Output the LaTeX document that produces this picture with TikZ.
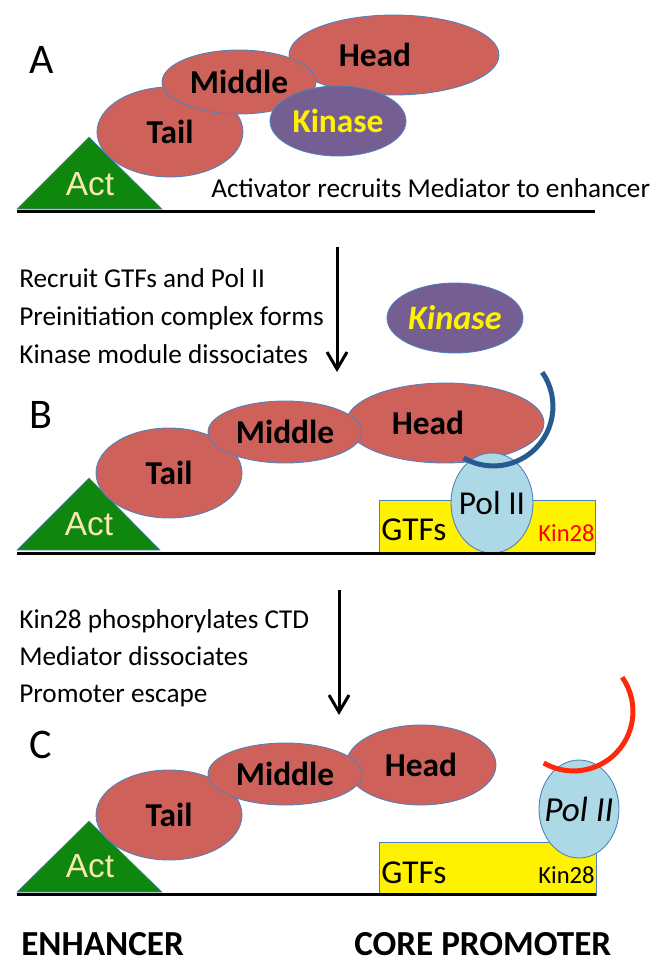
\documentclass[tikz,border=0pt]{standalone}
\usepackage{fontspec}
\setmainfont{Carlito}
\newfontfamily\arialfont{Liberation Sans}
\usetikzlibrary{shapes.geometric,arrows.meta}

\definecolor{medred}{RGB}{206,98,91}
\definecolor{rim}{RGB}{79,129,189}
\definecolor{kinpurple}{RGB}{117,94,145}
\definecolor{polblue}{RGB}{173,216,230}
\definecolor{actgreen}{RGB}{15,135,15}
\definecolor{acttext}{RGB}{248,232,176}
\definecolor{ctdblue}{RGB}{38,90,145}
\definecolor{ctdred}{RGB}{255,40,10}

\begin{document}
\begin{tikzpicture}[x=0.02cm,y=-0.02cm,
  sub/.style={ellipse, draw=rim, line width=0.5pt, fill=medred, inner sep=0pt,
    font=\fontsize{19}{22}\selectfont\bfseries},
  kin/.style={sub, fill=kinpurple, text=yellow, minimum width=2.72cm, minimum height=1.4cm},
  pol/.style={ellipse, draw=rim, line width=0.5pt, fill=polblue, inner sep=0pt,
    font=\fontsize{19}{22}\selectfont},
  gtf/.style={draw=rim, line width=0.5pt, fill=yellow},
  act/.style={fill=actgreen, draw=rim, line width=0.3pt},
  acttxt/.style={text=acttext, font=\arialfont\fontsize{19}{22}\selectfont, inner sep=0pt},
  dna/.style={line width=0.06cm},
  panel/.style={font=\fontsize{24}{28}\selectfont, anchor=base west, inner sep=0pt},
  steptxt/.style={font=\fontsize{15.5}{18}\selectfont, anchor=base west, inner sep=0pt},
  boxtxt/.style={font=\fontsize{19}{22}\selectfont, inner sep=0pt},
  kintxt/.style={font=\fontsize{14}{16}\selectfont, anchor=base east, inner sep=0pt},
  region/.style={font=\fontsize{20}{24}\selectfont\bfseries, anchor=base west, inner sep=0pt},
  move/.style={-{Straight Barb[length=0.34cm,width=0.4cm]}, line width=0.06cm},
  ctd/.style={line width=0.1cm}]

\useasboundingbox (0,0) rectangle (659,965);

% A
\node[panel] (lA) at (29,73) {A};
\draw[act] (17,209) -- (162,209) -- (89,137) -- cycle;
\node[acttxt] (aA) at (90,184) {Act};
\node[sub, minimum width=4.2cm, minimum height=1.6cm] (hA) at (394,55) {Head\rule{0.76cm}{0pt}};
\node[sub, minimum width=2.92cm, minimum height=1.8cm] (tA) at (170,132) {Tail};
\node[sub, minimum width=3.08cm, minimum height=1.28cm] (mA) at (239,82) {Middle};
\node[kin] (kA) at (338,121) {Kinase};
\draw[dna] (17,211) -- (595,211);
\node[steptxt] (sA) at (211,197) {Activator recruits Mediator to enhancer};

% A -> B
\coordinate (uA) at (337,247);
\coordinate (dA) at (337,372);
\draw[move] (uA) -- (dA);
\node[steptxt] (s1) at (19,287) {Recruit GTFs and Pol II};
\node[steptxt] (s2) at (19,325) {Preinitiation complex forms};
\node[steptxt] (s3) at (19,363) {Kinase module dissociates};
\node[kin, font=\fontsize{19.5}{22}\selectfont\bfseries\itshape] (kB) at (455,318) {Kinase};

% B
\node[panel] (lB) at (29,428) {B};
\draw[act] (17,550) -- (160,550) -- (89,478) -- cycle;
\node[acttxt] (aB) at (89,524) {Act};
\node[sub, minimum width=3.96cm, minimum height=1.6cm] (hB) at (445,423) {Head\rule{0.68cm}{0pt}};
\node[sub, minimum width=2.92cm, minimum height=1.8cm] (tB) at (169,473) {Tail};
\node[sub, minimum width=3.08cm, minimum height=1.24cm] (mB) at (285,432) {Middle};
\draw[gtf] (379,500) rectangle (595,553);
\node[pol, minimum width=1.64cm, minimum height=2.0cm] (pB) at (492,503) {\makebox[0.8cm]{Pol II}};
\draw[ctd, ctdblue] (542.2,372.3) arc[start angle=-35, end angle=120, radius=59.5];
\draw[dna] (17,553) -- (595,553);
\node[boxtxt, anchor=base west] (gB) at (381,540) {GTFs};
\node[kintxt, text=red] (nB) at (595,541) {Kin28};

% B -> C
\coordinate (uB) at (339,590);
\coordinate (dB) at (339,715);
\draw[move] (uB) -- (dB);
\node[steptxt] (s4) at (19,628) {Kin28 phosphorylates CTD};
\node[steptxt] (s5) at (19,665) {Mediator dissociates};
\node[steptxt] (s6) at (19,702) {Promoter escape};

% C
\node[panel] (lC) at (29,758) {C};
\draw[act] (17,892) -- (162,892) -- (89,821) -- cycle;
\node[acttxt] (aC) at (90,866) {Act};
\node[sub, minimum width=3.0cm, minimum height=1.6cm] (hC) at (421,765) {Head};
\node[sub, minimum width=2.92cm, minimum height=1.8cm] (tC) at (169,815) {Tail};
\node[sub, minimum width=3.08cm, minimum height=1.24cm] (mC) at (285,774) {Middle};
\draw[gtf] (379,842) rectangle (596,895);
\node[pol, minimum width=1.6cm, minimum height=1.96cm, font=\fontsize{20}{24}\selectfont\itshape] (pC) at (579,809) {\makebox[0.8cm]{Pol II}};
\draw[ctd, ctdred] (622.2,677.3) arc[start angle=-35, end angle=120, radius=59.5];
\draw[dna] (17,894) -- (596,894);
\node[boxtxt, anchor=base west] (gC) at (381,883) {GTFs};
\node[kintxt] (nC) at (595,883) {Kin28};

\node[region] (en) at (21,955) {ENHANCER};
\node[region] (cp) at (354,955) {CORE PROMOTER};

\end{tikzpicture}
\end{document}
